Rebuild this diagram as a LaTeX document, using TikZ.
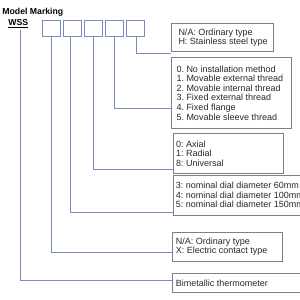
\documentclass[tikz,border=0pt]{standalone}
\usepackage{fontspec}
\setmainfont{Liberation Sans}
\frenchspacing
\definecolor{lineblue}{RGB}{120,140,190}
\definecolor{boxgray}{RGB}{128,128,128}
\definecolor{txtgray}{RGB}{40,40,40}
\begin{document}
\begin{tikzpicture}[x=1pt,y=-1pt,
  sbox/.style={draw=lineblue, line width=0.8pt, minimum width=18pt, minimum height=15.7pt, inner sep=0pt},
  rbox/.style={draw=boxgray, line width=0.8pt, inner sep=0pt, anchor=north west},
  rtxt/.style={anchor=west, inner sep=0pt, align=left, font=\fontsize{9}{9.6}\selectfont, text=txtgray},
  conn/.style={draw=lineblue, line width=0.8pt},
  ttl/.style={font=\bfseries\fontsize{8.7}{10}\selectfont, inner sep=0pt, text=black}]
\useasboundingbox (0,0) rectangle (300,300);
\clip (0,0) rectangle (300,300);
\fill[white] (0,0) rectangle (300,300);

\node[ttl, anchor=west] (title) at (2.2,12) {Model Marking};
\node[ttl] (wss) at (18.2,23.3) {\underline{WSS}};

\node[sbox] (s1) at (51.3,28.2) {};
\node[sbox] (s2) at (72.3,28.2) {};
\node[sbox] (s3) at (93.2,28.2) {};
\node[sbox] (s4) at (114.3,28.2) {};
\node[sbox] (s5) at (135.3,28.2) {};

\node[rbox, minimum width=101.7pt, minimum height=27.7pt] (A) at (171.3,23.3) {};
\node[rbox, minimum width=119.7pt, minimum height=70.4pt] (B) at (171.3,57.3) {};
\node[rbox, minimum width=109.8pt, minimum height=40.3pt] (C) at (172.7,133) {};
\node[rbox, minimum width=135pt, minimum height=39.5pt] (D) at (172.7,175) {};
\node[rbox, minimum width=109.4pt, minimum height=29pt] (E) at (172.3,231.7) {};
\node[rbox, minimum width=135pt, minimum height=18.4pt] (F) at (172.3,273.3) {};

\node[rtxt] (At) at ([xshift=7pt]A.west) {N/A: Ordinary type\\H: Stainless steel type};
\node[rtxt] (Bt) at ([xshift=5pt]B.west) {0. No installation method\\1. Movable external thread\\2. Movable internal thread\\3. Fixed external thread\\4. Fixed flange\\5. Movable sleeve thread};
\node[rtxt] (Ct) at ([xshift=3.3pt]C.west) {0: Axial\\1: Radial\\8: Universal};
\node[rtxt] (Dt) at ([xshift=3pt]D.west) {3: nominal dial diameter 60mm\\4: nominal dial diameter 100mm\\5: nominal dial diameter 150mm};
\node[rtxt] (Et) at ([xshift=3.4pt]E.west) {N/A: Ordinary type\\X: Electric contact type};
\node[rtxt] (Ft) at ([xshift=3.4pt]F.west) {Bimetallic thermometer};

\draw[conn] ([xshift=1.4pt]s5.south) |- ([yshift=-1.5pt]A.south west);
\draw[conn] (s4.south) |- ([yshift=20pt]B.south west);
\draw[conn] (s3.south) |- ([yshift=4.6pt]C.south west);
\draw[conn] ([xshift=-1.5pt]s2.south) |- ([yshift=2.5pt]D.south west);
\draw[conn] (s1.south) |- ([yshift=8.7pt]E.south west);
\draw[conn] ([xshift=2.5pt,yshift=-2.5pt]wss.south) |- ([yshift=11.7pt]F.south west);
\end{tikzpicture}
\end{document}
